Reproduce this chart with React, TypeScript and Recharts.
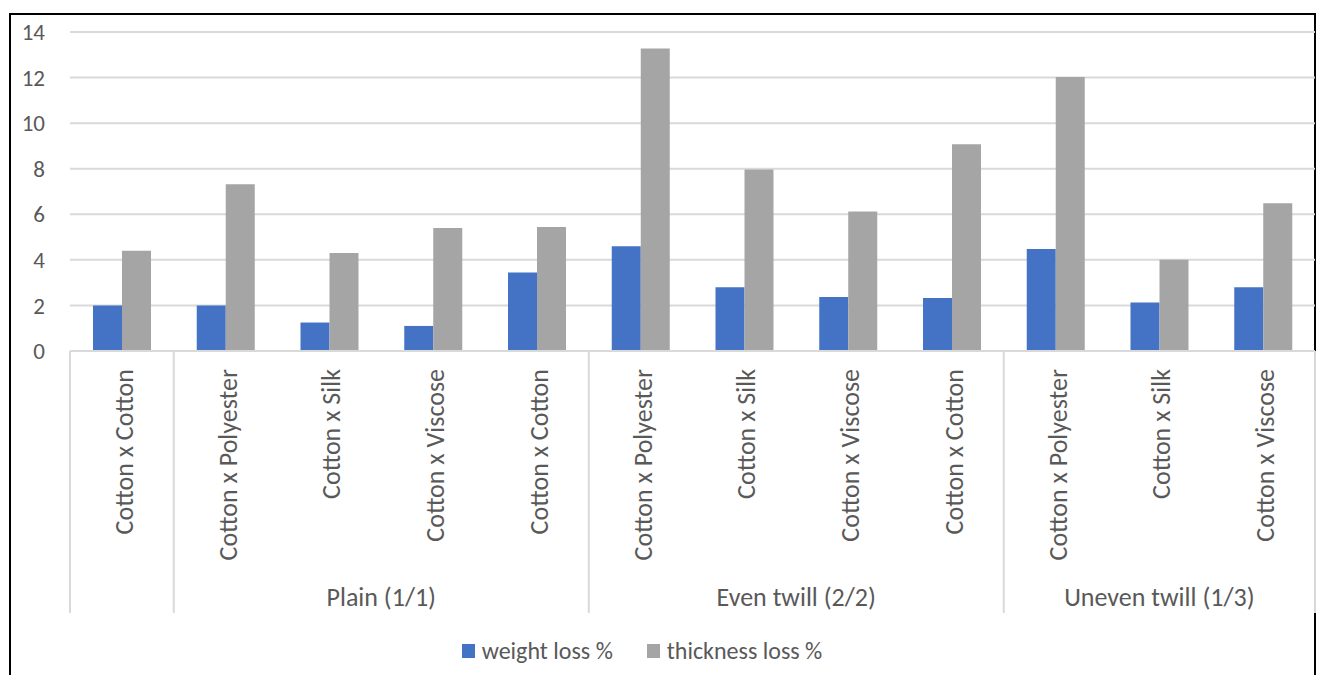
import { BarChart, Bar, XAxis, YAxis, CartesianGrid, Legend } from "recharts";

const categories = [
  "Cotton x Cotton",
  "Cotton x Polyester",
  "Cotton x Silk",
  "Cotton x Viscose",
  "Cotton x Cotton",
  "Cotton x Polyester",
  "Cotton x Silk",
  "Cotton x Viscose",
  "Cotton x Cotton",
  "Cotton x Polyester",
  "Cotton x Silk",
  "Cotton x Viscose",
];
const groups = ["", "Plain (1/1)", "Plain (1/1)", "Plain (1/1)", "Plain (1/1)", "Even twill (2/2)", "Even twill (2/2)", "Even twill (2/2)", "Even twill (2/2)", "Uneven twill (1/3)", "Uneven twill (1/3)", "Uneven twill (1/3)"];
const weightLoss = [2.0, 2.0, 1.25, 1.1, 3.45, 4.6, 2.8, 2.37, 2.33, 4.48, 2.13, 2.8];
const thicknessLoss = [4.4, 7.32, 4.3, 5.4, 5.44, 13.28, 7.97, 6.12, 9.07, 12.02, 4.0, 6.48];
const yTicks = [0, 2, 4, 6, 8, 10, 12, 14];

const FONT = "Carlito, Lato, sans-serif";
const TXT = "#595959";
const LINE = "#d9d9d9";

const data = categories.map((c, i) => ({
  cat: c,
  group: groups[i],
  weight: weightLoss[i],
  thickness: thicknessLoss[i],
}));

// rotated category names + multi-level group row underneath
function CatTick(props: any) {
  const { x, y, index, payload } = props;
  const off = payload?.offset ?? 0;
  const g = groups[index];
  const first = index === 0 || groups[index - 1] !== g;
  const n = groups.filter((v) => v === g).length;
  const last = index === groups.length - 1;
  return (
    <g>
      <text
        x={0}
        y={0}
        transform={`translate(${x + 2},${y + 18}) rotate(-90)`}
        textAnchor="end"
        dominantBaseline="central"
        fill={TXT}
        fontSize={26}
        fontFamily={FONT}
      >
        {categories[index]}
      </text>
      {first && <line x1={x - off} x2={x - off} y1={y} y2={y + 262} stroke={LINE} strokeWidth={2} />}
      {last && <line x1={x + off} x2={x + off} y1={y} y2={y + 262} stroke={LINE} strokeWidth={2} />}
      {first && g && (
        <text
          x={x - off + n * off}
          y={y + 246}
          textAnchor="middle"
          dominantBaseline="central"
          fill={TXT}
          fontSize={26}
          fontFamily={FONT}
        >
          {g}
        </text>
      )}
    </g>
  );
}

function LegendBox() {
  const items = [
    { name: "weight loss %", color: "#4472C4" },
    { name: "thickness loss %", color: "#A5A5A5" },
  ];
  return (
    <div style={{ display: "flex", justifyContent: "center", gap: 34, fontFamily: FONT, fontSize: 24, color: TXT }}>
      {items.map((it) => (
        <div key={it.name} style={{ display: "flex", alignItems: "center", gap: 7 }}>
          <span style={{ width: 13, height: 14, background: it.color, display: "inline-block" }} />
          <span>{it.name}</span>
        </div>
      ))}
    </div>
  );
}

export default function App() {
  return (
    <div style={{ position: "absolute", left: 0, top: 0, width: 1324, height: 675, background: "#fff", overflow: "hidden" }}>
      <div
        style={{
          position: "absolute",
          left: 9,
          top: 13,
          width: 1307,
          height: 700,
          border: "2px solid #000",
          boxSizing: "border-box",
        }}
      />
      <div style={{ position: "absolute", left: 0, top: 0 }}>
        <BarChart
          width={1324}
          height={675}
          data={data}
          margin={{ top: 32, right: 9, left: 0, bottom: 0 }}
          barGap={0}
          barSize={29}
        >
          <CartesianGrid horizontal vertical={false} stroke={LINE} strokeWidth={2} />
          <XAxis
            dataKey="cat"
            interval={0}
            height={324}
            tickLine={false}
            tickSize={0}
            tickMargin={0}
            axisLine={{ stroke: LINE, strokeWidth: 2 }}
            tick={<CatTick />}
          />
          <YAxis
            width={70}
            domain={[0, 14]}
            ticks={yTicks}
            axisLine={false}
            tickLine={false}
            tickSize={0}
            tickMargin={25}
            tick={{ fill: TXT, fontSize: 23, fontFamily: FONT }}
          />
          <Bar dataKey="weight" name="weight loss %" fill="#4472C4" isAnimationActive={false} />
          <Bar dataKey="thickness" name="thickness loss %" fill="#A5A5A5" isAnimationActive={false} />
          <Legend
            layout="horizontal"
            verticalAlign="middle"
            align="center"
            wrapperStyle={{ top: 636, left: 0, width: 1284 }}
            content={<LegendBox />}
          />
        </BarChart>
      </div>
    </div>
  );
}
